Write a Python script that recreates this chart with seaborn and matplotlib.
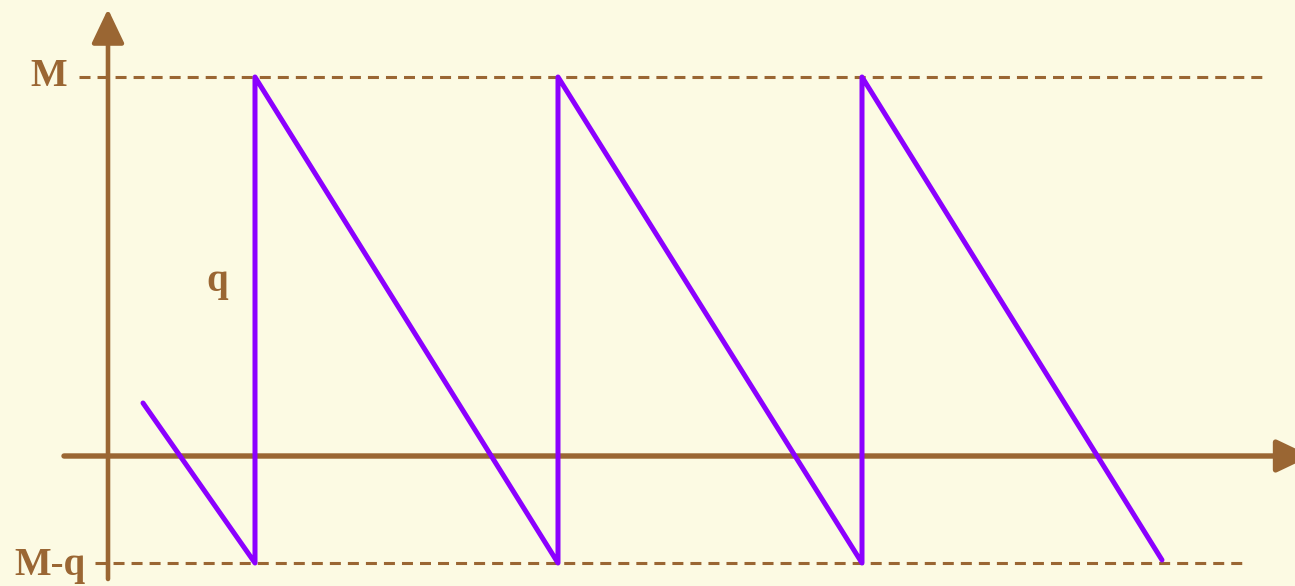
import matplotlib
matplotlib.use("Agg")
import matplotlib.pyplot as plt
import seaborn as sns
import pandas as pd

# Inventory sawtooth: time positions and stock levels (axis level = 0)
times = [143, 255, 255, 558, 558, 862, 862, 1162]
levels = [53, -107, 379, -107, 379, -107, 379, -104]

level_M = 379
level_Mq = -107
level_labels = ["M", "M-q"]

BG = "#FCFAE3"
BROWN = "#9A6633"
PURPLE = "#8B00FF"

sns.set_theme(style="white")
plt.rcParams["font.family"] = ["Liberation Serif", "DejaVu Serif"]

fig = plt.figure(figsize=(12.95, 5.86), dpi=100)
fig.patch.set_facecolor(BG)
ax = fig.add_axes([0, 0, 1, 1])
ax.set_facecolor(BG)

# Dashed reference levels
dash = (3.6, 2.3)
ax.plot([79, 1262], [level_M, level_M], color=BROWN, lw=2.2, dashes=dash, zorder=1)
ax.plot([95, 1248], [level_Mq, level_Mq], color=BROWN, lw=2.2, dashes=dash, zorder=1)

# Coordinate axes with arrow heads
arrow_v = dict(arrowstyle="-|>,head_length=1.05,head_width=0.5", color=BROWN,
               lw=3.3, shrinkA=0, shrinkB=0, mutation_scale=20)
arrow_h = dict(arrowstyle="-|>,head_length=1.05,head_width=0.5", color=BROWN,
               lw=3.9, shrinkA=0, shrinkB=0, mutation_scale=20)
ax.annotate("", xy=(108, 447), xytext=(108, -123), arrowprops=arrow_v, zorder=2)
ax.annotate("", xy=(1311, 0), xytext=(64, 0), arrowprops=arrow_h,
            annotation_clip=False, zorder=2)

# Sawtooth stock curve, drawn point by point in data order
df = pd.DataFrame({"t": times, "level": levels})
sns.lineplot(data=df, x="t", y="level", sort=False, estimator=None,
             color=PURPLE, lw=3.6, ax=ax, zorder=3, legend=False)
ax.set_xlim(0, 1295)
ax.set_ylim(-130, 456)
ax.axis("off")

# Level labels
ax.text(49, level_M, level_labels[0], color=BROWN, fontsize=28, fontweight="bold",
        ha="center", va="center")
ax.text(50, level_Mq - 3, level_labels[1], color=BROWN, fontsize=28, fontweight="bold",
        ha="center", va="center")
ax.text(217, 456 - 281, "q", color=BROWN, fontsize=28, fontweight="bold",
        ha="center", va="center")

fig.savefig("out.png", dpi=100, facecolor=BG)
